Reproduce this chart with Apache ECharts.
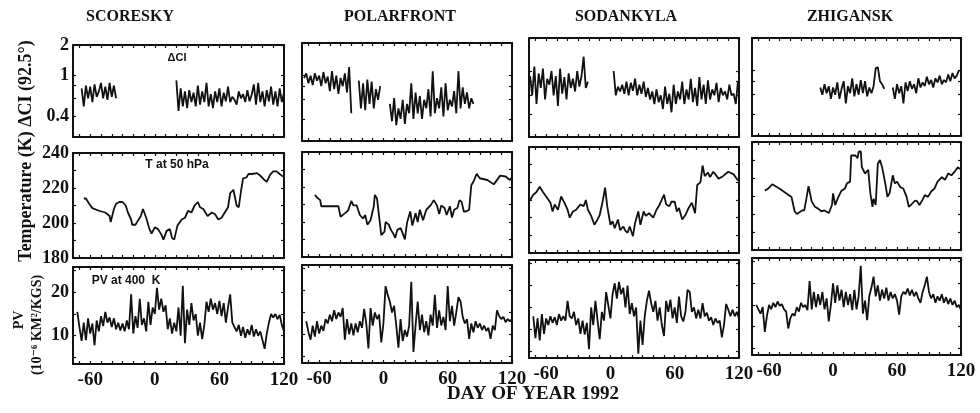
<!DOCTYPE html>
<html>
<head>
<meta charset="utf-8">
<script src="https://cdn.jsdelivr.net/npm/echarts@6/dist/echarts.min.js"></script>
<style>
  html, body { margin: 0; padding: 0; background: #fff; }
  #chart { width: 980px; height: 413px; }
</style>
</head>
<body>
<div id="chart"></div>
<script>
// stations (columns) and axis ticks
const stations = ["SCORESKY", "POLARFRONT", "SODANKYLA", "ZHIGANSK"];
const dayTicks = [-70, -60, -50, -40, -30, -20, -10, 0, 10, 20, 30, 40, 50, 60, 70, 80, 90, 100, 110, 120];
const dayLabels = [-60, 0, 60, 120];
const ciTicks = [0.4, 0.6, 0.8, 1, 2];
const ciLabels = [0.4, 1, 2];
const tTicks = [180, 190, 200, 210, 220, 230, 240];
const tLabels = [180, 200, 220, 240];
const pvTicks = [5, 10, 15, 20, 25];
const pvLabels = [10, 20];

// ΔCI (92.5°), every 2 days, segments [startDay, values]
const ciScoresky = [
  [-68, [0.75,0.5,0.8,0.6,0.78,0.55,0.82,0.62,0.7,0.85,0.6,0.78,0.58,0.85,0.62,0.8,0.6]],
  [20, [0.9,0.45,0.75,0.5,0.7,0.48,0.72,0.55,0.68,0.5,0.8,0.52,0.7,0.55,0.85,0.5,0.66,0.48,0.7,0.55,0.75,0.5,0.68,0.56,0.78,0.55,0.62,0.58,0.52,0.7,0.6,0.66,0.55,0.72,0.56,0.65,0.82,0.52,0.85,0.55,0.7,0.5,0.72,0.56,0.78,0.52,0.7,0.5,0.75,0.55,0.68]]
];
const ciPolarfront = [
  [-74, [0.95,1.05,0.85,1.0,0.82,1.05,0.9,1.0,0.8,1.08,0.85,0.98,0.72,1.1,0.75,1.0,0.68,0.95,0.8,1.05,0.7,1.2,0.45]],
  [-23, [0.9,0.5,0.85,0.48,0.92,0.55,0.88,0.5,0.75,0.6,0.8]],
  [6, [0.55,0.38,0.62,0.35,0.5,0.4,0.6,0.36,0.55,0.45,0.85,0.4,0.7,0.45,0.65,0.4,0.6,0.5,0.75,0.42,1.1,0.45,0.62,0.5,0.78,0.42,0.85,0.48,0.6,0.52,0.72,0.45,1.1,0.5,0.78,0.55,0.7,0.5,0.62,0.55]]
];
const ciSodankyla = [
  [-75, [0.9,0.6,1.1,0.5,0.95,0.7,1.05,0.55,0.85,0.75,1.0,0.6,0.9,0.48,1.05,0.62,0.88,0.55,0.95,0.7,0.85,0.65,1.0,0.72,0.9,1.35,0.7,0.8]],
  [3, [1.0,0.6,0.72,0.65,0.75,0.62,0.8,0.6,0.78,0.66,0.85,0.6,0.75,0.62,0.8,0.58,0.7,0.55,0.65,0.5,0.68,0.52,0.6,0.45,0.72,0.5,0.62,0.42,0.75,0.5,0.65,0.55,0.8,0.5,0.68,0.55,0.85,0.52,0.7,0.48,0.88,0.55,0.75,0.5,0.82,0.55,0.68,0.6,0.78,0.52,0.7,0.6,0.65,0.55,0.75,0.6,0.62,0.5,0.8]]
];
const ciZhigansk = [
  [-12, [0.7,0.6,0.75,0.62,0.72,0.55,0.7,0.6,0.78,0.55,0.68,0.8,0.5,0.72,0.62,0.85,0.58,0.75,0.6,0.82,0.62,0.8,0.58,0.7,0.62,0.72,1.05,1.08,0.8,0.75,0.68]],
  [56, [0.7,0.55,0.75,0.62,0.72,0.5,0.78,0.65,0.8,0.68,0.75,0.62,0.85,0.7,0.78,0.72,0.88,0.75,0.82,0.7,0.85,0.78,0.9,0.75,0.82,0.78,0.92,0.8,0.95,0.85,0.9,1.0]]
];

// T at 50 hPa (K)
const tScoreskyDays = [-66,-64,-61,-58,-52,-46,-42,-41,-38,-36,-33,-30,-27,-25,-22,-21,-18,-16,-13,-11,-8,-5,-3,0,3,6,8,11,14,16,18,21,25,28,31,34,37,40,42,45,49,53,56,59,62,65,68,70,73,76,78,80,82,85,87,90,95,98,102,104,107,110,113,116,119];
const tScoresky = [214,214,211,208.5,207,206,204,200.5,208,211,212,212,210,206,202,199,199,201,204,208,203,196.5,194,197.5,196.5,193.5,190.5,195.5,196.5,191.5,190.5,198.5,202,203,207,206,210,212,209,208,204,206,205,202,203,206,209,217,219,210,209,218,225.5,226,228,228,228.5,227,224.5,223.5,227.5,229.5,229.5,228,226.5];
const tPolarfrontDays = [-64,-62,-59,-58,-53,-47,-42,-40,-37,-33,-30,-28,-25,-22,-19,-17,-15,-12,-9,-8,-6,-4,-2,1,2,5,7,9,11,13,16,18,20,22,25,27,30,32,34,37,40,44,47,50,52,54,57,59,62,64,66,69,71,73,75,77,80,82,84,87,90,97,103,109,114,118,120];
const tPolarfront = [215.5,214,212.5,209,209,209,209,203,204.5,206.5,212,209.5,209.5,204,202,204,198.5,201,209,215.5,213.5,203,192.5,194.5,200,198.5,195.5,193.5,191,195.5,196.5,193.5,190,199.5,206,198,205,200,207,201,207,209.5,212.5,209.5,204.5,209.5,208,204,209,202.5,207,208,212.5,211.5,206,206,207,221,223,227.5,225,224,221.5,226.5,226,224,225.5];
const tSodankylaDays = [-75,-72,-69,-66,-63,-60,-56,-54,-52,-49,-46,-43,-40,-38,-35,-32,-28,-25,-23,-21,-18,-15,-12,-10,-7,-5,-3,0,2,4,7,9,12,14,16,18,21,23,26,28,31,33,36,40,43,46,50,52,55,57,60,62,64,67,70,73,76,79,81,84,86,88,91,93,96,98,101,105,110,115,119];
const tSodankyla = [210,213,214.5,217.5,214.5,212,208.5,203.5,207.5,204.5,212,208.5,204.5,200,203.5,204.5,207.5,206.5,210,204.5,201,196,199,201.5,210,217,206.5,196,198,194,199,193,195,192.5,191.5,195,189.5,197,203.5,196,203.5,201,202.5,200,204.5,207.5,213,207.5,206.5,209,209,203.5,205.5,199,201.5,205.5,208.5,202.5,218.5,220,229.5,223.5,225.5,223,226,224.5,222,223.5,226,224.5,221];
const tZhiganskDays = [-64,-61,-57,-50,-39,-36,-34,-29,-27,-25,-23,-20,-17,-14,-11,-8,-4,-1,0,2,5,8,11,13,16,17,21,23,24,26,27,30,33,35,37,38,40,42,44,46,49,51,53,56,58,60,63,66,69,71,73,77,79,81,84,86,89,92,95,98,102,105,108,111,114,117,119];
const tZhigansk = [213,214,216.5,214,209.5,201.5,200,202,202,208.5,215.5,207,204,203,201.5,202,200.5,205,211.5,205,209.5,213,214,217,218,232.5,232.5,231,234.5,235,226,222.5,224.5,211.5,204,208.5,205,228,230,226,217,209.5,211.5,221.5,217,218,215,214,209.5,204,205,207.5,207,205,208,210.5,209.5,212.5,214,218,220.5,219,222.5,221.5,223.5,226,225];

// PV at 400 K (10^-6 K m^2 / kg s), every 2 days from day -72
const pvStart = -72;
const pvScoresky = [15.5,12,8.8,13,9,14,10.5,12.8,7.8,13.5,11,14.5,12.2,15.5,13,14.2,12,14,11.5,13,11.2,12.8,11,13.5,11.5,19.5,10.5,14.5,11.8,18.5,12.5,14,11,17.8,12.5,16.5,15,21,16,18.5,15.5,17,11.5,14,10.5,13,11,16.5,10,21.5,8.3,16,12.5,17.5,13.5,15,10,13,9.2,12.5,17.8,15.5,18.5,16,17.5,15,18,14.5,17.5,13,16.5,19.5,13,12,11,12.5,10,12,9.5,11.5,10.2,12.5,9.8,11.5,10,11,9,7,10.5,13,15,14.2,15,13.8,14.8,12.5,11];
const pvPolarfront = [13,10.5,8.8,12,9.5,13,10.2,12,10.8,13.5,12.5,14.5,13,15.5,13.5,15,14,16,8.8,13.5,10,12.5,9.8,12.5,10.5,13,11.5,15.8,12.5,6.8,16,12,15,13.5,14.5,8.2,12.5,21,19,17.5,15,16.5,12,7,13.5,8.5,11,9.5,12,22,6,12,17.5,11,14.5,10.5,13,9.8,14.5,12,19,11.5,15.5,12,14,11,21,13,16.5,12,15,18.5,17.5,14,12.5,13.5,9,12.5,10.5,13,11.5,12.5,11,12,10.8,11.5,9,12,11,15.5,14.2,13.5,14,12.8,13.5,13,13.5];
const pvSodankyla = [13,8,12.5,7.5,13.5,9,12.5,11,13,11.5,12.8,11,13.5,12,13,12,16.5,13,12.5,14,11,12.5,9,12,8.8,11.5,5.5,15,11,16.5,12,7.8,14,12,18.5,15.5,12.5,18,20.5,17,20.8,18,19.5,15,20,13.5,16,13,15,4.5,12,6.5,13,16.5,18.8,16,14,16.5,12,15,11,8.5,16.5,14,16.8,12.5,15,11.5,17.5,13,11.8,14,19,18.5,14,15,12.5,14.5,12.5,16,13,13.8,12,12.8,11,12.5,11.5,12,8.2,11,15.8,14.5,13,14.5,13,14,12.5];
const pvZhigansk = [15,14,13,14.5,8.8,12.5,15,14,15.5,14.5,15.8,14.8,15.2,14,13.5,9.6,12,13,12.5,14.5,13.5,15.5,14.5,15,13.8,20.5,14,18,14.5,17.5,15,18,14,16.5,11.2,15,20,15.5,19.5,16,18.5,14.5,18,15,17.5,13.8,18.5,14,17,24,13,16,11.5,17,19,21.5,17,19.5,16,18.5,16.5,19,16,18,16.5,17.5,16,12.8,17,18,17.5,18.8,17.2,18.5,17,18,16.5,15.5,18,19.5,21.5,18,16.5,17.5,15.5,17,16,17.5,15.5,16.8,15.2,16.5,15,16,14.5,15,13.8];

// panel frames in px: column [left, width], per-row [top, height] for each column
const colBox = [[73, 211], [302, 210], [529, 210], [752, 209]];
const rowBox = [
  [[45, 92], [43, 98], [38, 99], [38, 98]],
  [[153, 105], [152, 105], [147, 106], [142, 108]],
  [[267, 97], [265, 98], [260, 98], [258, 97]]
];

const serif = "'Liberation Serif', 'DejaVu Serif', serif";
const sans = "'Liberation Sans', 'DejaVu Sans', sans-serif";
const ink = "#111";

const stepped = (start, step, vals) => vals.map((v, i) => [start + i * step, v]);
const paired = (days, vals) => days.map((d, i) => [d, vals[i]]);

const panelData = [
  [ciScoresky, ciPolarfront, ciSodankyla, ciZhigansk].map(segs => segs.map(s => stepped(s[0], 2, s[1]))),
  [paired(tScoreskyDays, tScoresky), paired(tPolarfrontDays, tPolarfront),
   paired(tSodankylaDays, tSodankyla), paired(tZhiganskDays, tZhigansk)].map(d => [d]),
  [pvScoresky, pvPolarfront, pvSodankyla, pvZhigansk].map(v => [stepped(pvStart, 2, v)])
];

const grid = [], xAxis = [], yAxis = [], series = [];

for (let r = 0; r < 3; r++) {
  for (let c = 0; c < 4; c++) {
    const g = grid.length;
    grid.push({ left: colBox[c][0], width: colBox[c][1], top: rowBox[r][c][0], height: rowBox[r][c][1] });

    const xBase = {
      type: "value", gridIndex: g, min: -76, max: 120,
      axisLine: { show: true, onZero: false, lineStyle: { color: ink, width: 2 } },
      axisTick: { show: true, inside: true, length: 3, customValues: dayTicks, lineStyle: { color: ink, width: 1.2 } },
      splitLine: { show: false }
    };
    xAxis.push(Object.assign({}, xBase, {
      position: "bottom",
      axisLabel: r === 2
        ? { show: true, customValues: dayLabels, color: ink, fontFamily: serif, fontWeight: "bold", fontSize: 19, margin: 7 }
        : { show: false }
    }));
    xAxis.push(Object.assign({}, xBase, { position: "top", axisLabel: { show: false } }));

    let yBase;
    if (r === 0) yBase = { type: "log", logBase: 10, min: 0.25, max: 2, ticks: ciTicks, labels: ciLabels };
    else if (r === 1) yBase = { type: "value", min: 180, max: 240, ticks: tTicks, labels: tLabels };
    else yBase = { type: "value", min: 3.5, max: 25.8, ticks: pvTicks, labels: pvLabels };

    const yCommon = {
      type: yBase.type, gridIndex: g, min: yBase.min, max: yBase.max,
      axisLine: { show: true, onZero: false, lineStyle: { color: ink, width: 2 } },
      axisTick: { show: true, inside: true, length: 3, customValues: yBase.ticks, lineStyle: { color: ink, width: 1.2 } },
      splitLine: { show: false }
    };
    if (yBase.logBase) yCommon.logBase = yBase.logBase;
    yAxis.push(Object.assign({}, yCommon, {
      position: "left",
      axisLabel: c === 0
        ? { show: true, customValues: yBase.labels, color: ink, fontFamily: serif, fontWeight: "bold", fontSize: 18, margin: 4,
            formatter: v => String(v) }
        : { show: false }
    }));
    yAxis.push(Object.assign({}, yCommon, { position: "right", axisLabel: { show: false } }));

    panelData[r][c].forEach(seg => {
      series.push({
        type: "line", xAxisIndex: 2 * g, yAxisIndex: 2 * g, data: seg,
        symbol: "none", silent: true,
        lineStyle: { color: ink, width: 1.8 }
      });
    });
  }
}

const titleX = [130, 400, 626, 850];
const graphic = stations.map((s, i) => ({
  type: "text", x: titleX[i], y: 17,
  style: { text: s, font: "bold 16px " + serif, fill: ink, align: "center", verticalAlign: "middle" }
}));
graphic.push(
  { type: "text", x: 177, y: 58, style: { text: "ΔCI", font: "bold 11px " + sans, fill: ink, align: "center", verticalAlign: "middle" } },
  { type: "text", x: 177, y: 165, style: { text: "T at 50 hPa", font: "bold 12px " + sans, fill: ink, align: "center", verticalAlign: "middle" } },
  { type: "text", x: 126, y: 281, style: { text: "PV at 400  K", font: "bold 12px " + sans, fill: ink, align: "center", verticalAlign: "middle" } },
  { type: "text", x: 26, y: 151, rotation: Math.PI / 2,
    style: { text: "Temperature (K) ΔCI (92.5°)", font: "bold 18px " + serif, fill: ink, align: "center", verticalAlign: "middle" } },
  { type: "text", x: 19, y: 320, rotation: Math.PI / 2,
    style: { text: "PV", font: "bold 14px " + serif, fill: ink, align: "center", verticalAlign: "middle" } },
  { type: "text", x: 37, y: 325, rotation: Math.PI / 2,
    style: { text: "(10⁻⁶ KM²/KGS)", font: "bold 14px " + serif, fill: ink, align: "center", verticalAlign: "middle" } },
  { type: "text", x: 533, y: 394,
    style: { text: "DAY OF YEAR 1992", font: "bold 19px " + serif, fill: ink, align: "center", verticalAlign: "middle" } }
);

const chart = echarts.init(document.getElementById("chart"), null, { renderer: "canvas" });
chart.setOption({
  animation: false,
  backgroundColor: "#fff",
  grid, xAxis, yAxis, series, graphic
});
</script>
</body>
</html>
